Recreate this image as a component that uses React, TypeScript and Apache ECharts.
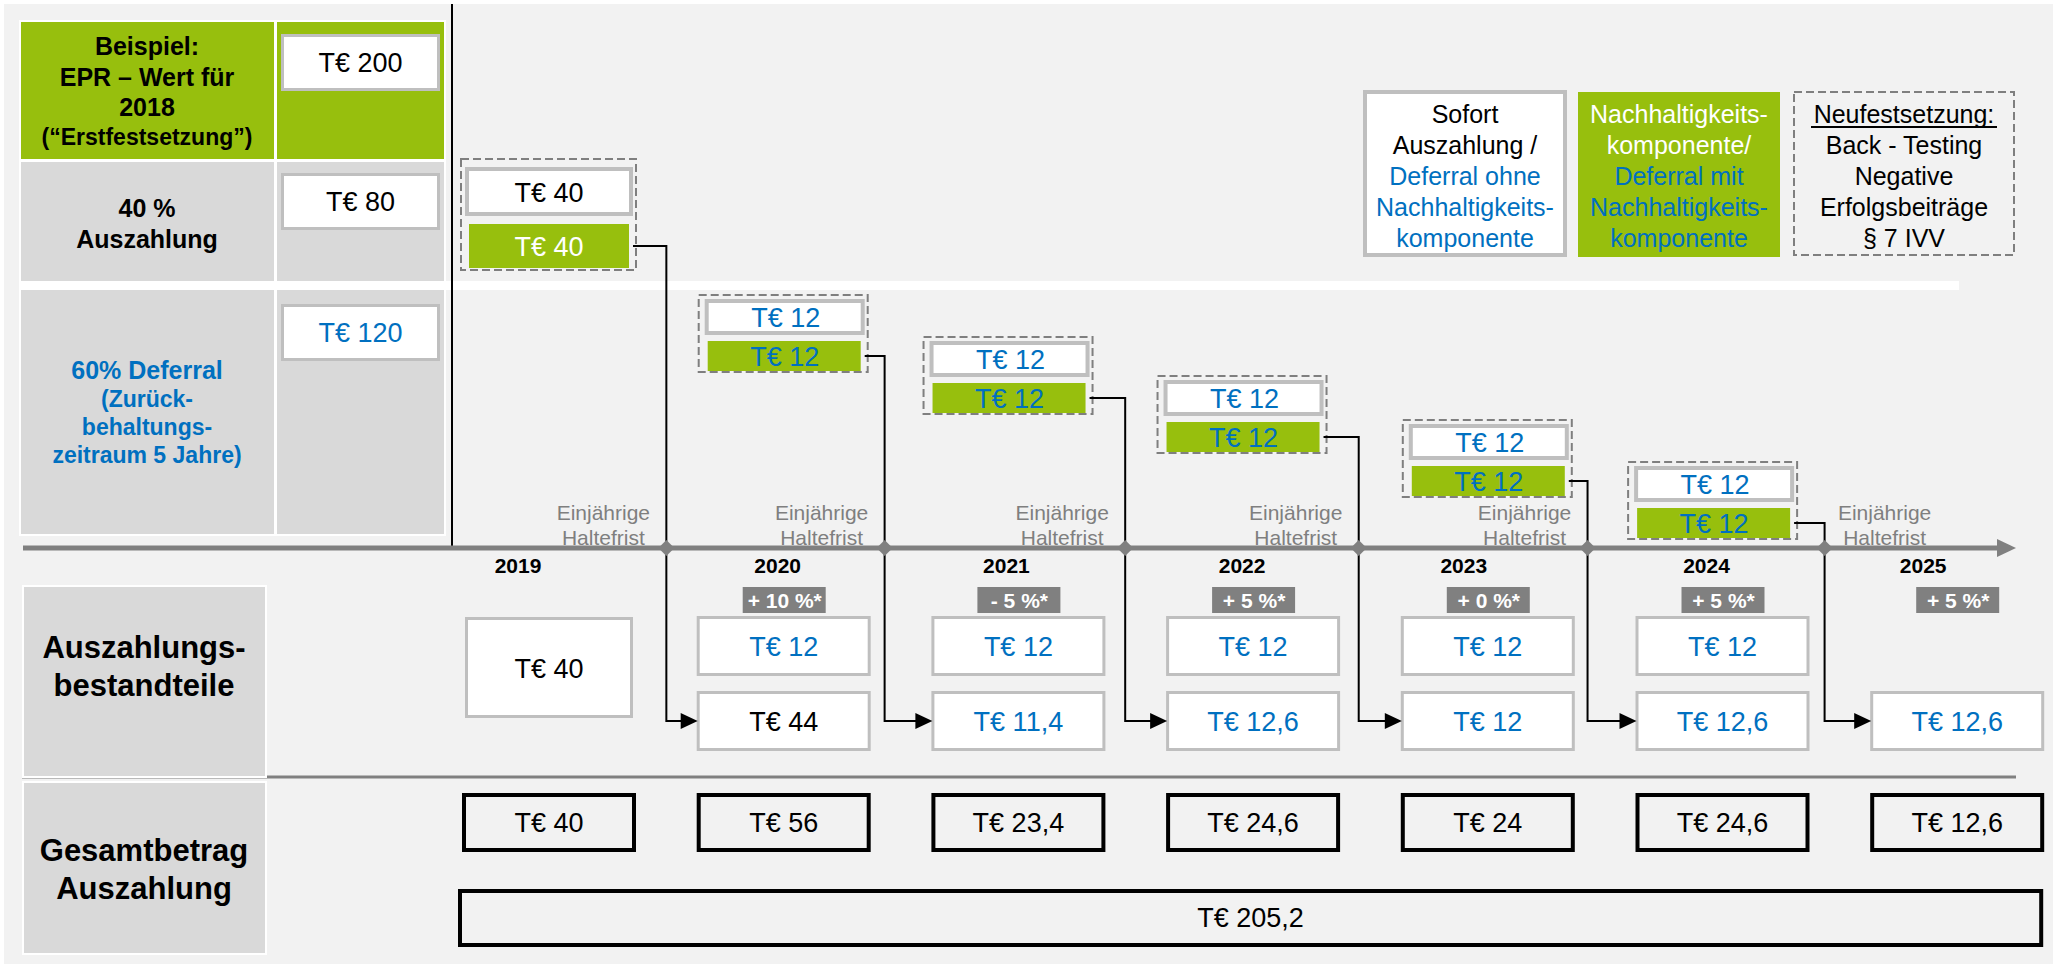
import React, { useEffect, useRef } from "react";
import * as echarts from "echarts";

// ---------------- data ----------------
const years = [2019, 2020, 2021, 2022, 2023, 2024, 2025];
const eprValue2018 = 200; // EPR-Wert für 2018
const payoutPart = 80; // 40 % Auszahlung
const deferralPart = 120; // 60 % Deferral
// tranches per year 2019..2024 (white = ohne, green = mit Nachhaltigkeitskomponente)
const trancheWithout = [40, 12, 12, 12, 12, 12];
const trancheWith = [40, 12, 12, 12, 12, 12];
const adjustments = ["", "+ 10 %*", "- 5 %*", "+ 5 %*", "+ 0 %*", "+ 5 %*", "+ 5 %*"];
const componentDirect = [40, 12, 12, 12, 12, 12, null];
const componentAdjusted = [null, 44, 11.4, 12.6, 12, 12.6, 12.6];
const totals = [40, 56, 23.4, 24.6, 24, 24.6, 12.6];
const grandTotal = 205.2;
const holdingLabel = "Einjährige\nHaltefrist";

// ---------------- styles / layout ----------------
const FONT = '"Liberation Sans", Arial, Helvetica, sans-serif';
const GREEN = "#97bf0d";
const BLUE = "#0070c0";
const GRAY = "#d9d9d9";
const BG = "#f2f2f2";
const BORDER = "#bfbfbf";
const DARK = "#808080";
const BLACK = "#000000";
const WHITE = "#ffffff";
const stackTops = [158, 294, 336, 375, 419, 461];
const stackShift = [0, 0, -0.042, -0.045, 0, -0.04]; // in years
const diamondShift = [0.5, 0.43, 0.455, 0.45, 0.425, 0.435]; // in years
const yearLabelShift = [-31, -6, -12, -11, -24, -16, -34]; // px
const adjustedColor = [BLACK, BLACK, BLUE, BLUE, BLUE, BLUE, BLUE];
const YEAR_PX = 234.7;
const X_MIN = 2019 - 549 / YEAR_PX;
const X_MAX = X_MIN + 2058 / YEAR_PX;

const te = (v: number) => "T€ " + String(v).replace(".", ",");
const font = (size: number, bold = false) => `${bold ? "bold " : ""}${size}px ${FONT}`;

function txt(text: string, x: number, y: number, size: number, color: string, bold = false, extra: any = {}) {
  return {
    type: "text",
    silent: true,
    style: {
      text,
      x,
      y,
      font: font(size, bold),
      fill: color,
      align: "center",
      verticalAlign: "middle",
      textAlign: "center",
      textVerticalAlign: "middle",
      ...extra,
    },
  };
}
function rect(x: number, y: number, w: number, h: number, style: any) {
  return { type: "rect", silent: true, shape: { x, y, width: w, height: h }, style };
}
function line(x1: number, y1: number, x2: number, y2: number, stroke: string, lineWidth: number) {
  return { type: "line", silent: true, shape: { x1, y1, x2, y2 }, style: { stroke, lineWidth } };
}
function lines(arr: [string, string][], cx: number, y0: number, step: number, size: number, bold = false) {
  return arr.map(([t, c], k) => txt(t, cx, y0 + k * step, size, c, bold));
}
const dashed = { fill: "none", stroke: "#7f7f7f", lineWidth: 2, lineDash: [8, 4] };

function valueBox(y: number, text: string, color: string) {
  return [
    rect(282.5, y + 1.5, 156, 54, { fill: WHITE, stroke: BORDER, lineWidth: 3 }),
    txt(text, 360.5, y + 29, 27, color),
  ];
}

const staticGraphics: any[] = [
  rect(4, 4, 2049, 960, { fill: BG }),
  // left table
  rect(19, 20, 427, 516, { fill: WHITE }),
  rect(21, 22, 253, 137, { fill: GREEN }),
  rect(277, 22, 167, 137, { fill: GREEN }),
  rect(21, 162, 253, 119, { fill: GRAY }),
  rect(277, 162, 167, 119, { fill: GRAY }),
  rect(21, 290, 253, 244, { fill: GRAY }),
  rect(277, 290, 167, 244, { fill: GRAY }),
  rect(19, 281, 1940, 9, { fill: WHITE }),
  ...valueBox(34, te(eprValue2018), BLACK),
  ...valueBox(173, te(payoutPart), BLACK),
  ...valueBox(304, te(deferralPart), BLUE),
  txt("Beispiel:", 147, 46, 25, BLACK, true),
  txt("EPR – Wert für", 147, 77, 25, BLACK, true),
  txt("2018", 147, 107, 25, BLACK, true),
  txt("(“Erstfestsetzung”)", 147, 137, 23, BLACK, true),
  txt("40 %", 147, 208, 25, BLACK, true),
  txt("Auszahlung", 147, 239, 25, BLACK, true),
  txt("60% Deferral", 147, 370, 25, BLUE, true),
  txt("(Zurück-", 147, 399, 23, BLUE, true),
  txt("behaltungs-", 147, 427, 23, BLUE, true),
  txt("zeitraum 5 Jahre)", 147, 455, 23, BLUE, true),
  // vertical line and time axis
  line(452, 4, 452, 548, BLACK, 2),
  line(23, 548, 2000, 548, DARK, 5),
  { type: "polygon", silent: true, shape: { points: [[1997, 539], [2016, 548], [1997, 557]] }, style: { fill: DARK } },
  line(22, 777, 2016, 777, DARK, 3),
  // lower row labels
  rect(22, 585, 245, 193, { fill: WHITE }),
  rect(24, 587, 241, 189, { fill: GRAY }),
  rect(22, 781, 245, 174, { fill: WHITE }),
  rect(24, 783, 241, 170, { fill: GRAY }),
  txt("Auszahlungs-", 144, 647, 31, BLACK, true),
  txt("bestandteile", 144, 685, 31, BLACK, true),
  txt("Gesamtbetrag", 144, 850, 31, BLACK, true),
  txt("Auszahlung", 144, 888, 31, BLACK, true),
  // legend
  rect(1365, 92, 200, 163, { fill: WHITE, stroke: BORDER, lineWidth: 4 }),
  ...lines(
    [["Sofort", BLACK], ["Auszahlung /", BLACK], ["Deferral ohne", BLUE], ["Nachhaltigkeits-", BLUE], ["komponente", BLUE]],
    1465, 114, 31, 25
  ),
  rect(1578, 92, 202, 165, { fill: GREEN }),
  ...lines(
    [["Nachhaltigkeits-", WHITE], ["komponente/", WHITE], ["Deferral mit", BLUE], ["Nachhaltigkeits-", BLUE], ["komponente", BLUE]],
    1679, 114, 31, 25
  ),
  rect(1794, 92, 220, 163, dashed),
  ...lines(
    [["Neufestsetzung:", BLACK], ["Back - Testing", BLACK], ["Negative", BLACK], ["Erfolgsbeiträge", BLACK], ["§ 7 IVV", BLACK]],
    1904, 114, 31, 25
  ),
  line(1811, 127, 1997, 127, BLACK, 2),
];

// ---------------- series renderers ----------------
const xOf = (api: any, v: number) => api.coord([v, 0])[0];
const yOf = (api: any, v: number) => api.coord([X_MIN, v])[1];

function renderStack(_p: any, api: any) {
  const i = api.value(2) as number;
  const cx = xOf(api, (api.value(0) as number) + stackShift[i]);
  const top = yOf(api, stackTops[i]);
  const children: any[] = [];
  if (i === 0) {
    children.push(rect(cx - 88, top + 1, 175, 111, dashed));
    children.push(rect(cx - 82, top + 11, 164, 45, { fill: WHITE, stroke: BORDER, lineWidth: 4 }));
    children.push(rect(cx - 80, top + 66, 160, 44, { fill: GREEN }));
    children.push(txt(te(trancheWithout[i]), cx, top + 35, 27, BLACK));
    children.push(txt(te(trancheWith[i]), cx, top + 89, 27, WHITE));
  } else {
    children.push(rect(cx - 85, top + 1, 169, 77, dashed));
    children.push(rect(cx - 77, top + 7, 156, 32, { fill: WHITE, stroke: BORDER, lineWidth: 4 }));
    children.push(rect(cx - 76, top + 47, 153, 30, { fill: GREEN }));
    children.push(txt(te(trancheWithout[i]), cx + 2, top + 24, 27, BLUE));
    children.push(txt(te(trancheWith[i]), cx + 1, top + 63, 27, BLUE));
  }
  return { type: "group", children };
}

function renderConnector(_p: any, api: any) {
  const i = api.value(2) as number;
  const year = api.value(0) as number;
  const cx = xOf(api, year + stackShift[i]);
  const dx = xOf(api, year + diamondShift[i]);
  const nx = xOf(api, year + 1) - 86;
  const top = yOf(api, stackTops[i]);
  const gy = i === 0 ? top + 88 : top + 62;
  const gx = i === 0 ? cx + 84 : cx + 81;
  const ay = yOf(api, 721);
  const axisY = yOf(api, 548);
  const labelX = i < trancheWith.length - 1 ? dx - 63 : dx + 60;
  return {
    type: "group",
    children: [
      {
        type: "polyline",
        silent: true,
        shape: { points: [[gx, gy], [dx, gy], [dx, ay], [nx - 15, ay]] },
        style: { stroke: BLACK, lineWidth: 2, fill: "none" },
      },
      { type: "polygon", silent: true, shape: { points: [[nx - 17, ay - 8], [nx, ay], [nx - 17, ay + 8]] }, style: { fill: BLACK } },
      {
        type: "polygon",
        silent: true,
        shape: { points: [[dx, axisY - 8], [dx + 8, axisY], [dx, axisY + 8], [dx - 8, axisY]] },
        style: { fill: DARK },
      },
      txt(holdingLabel, labelX, yOf(api, 525), 21, "#7f7f7f", false, { lineHeight: 25 }),
    ],
  };
}

function renderYear(_p: any, api: any) {
  const i = api.value(2) as number;
  const cx = xOf(api, api.value(0));
  const children: any[] = [txt(String(years[i]), cx + yearLabelShift[i], yOf(api, 565), 21, BLACK, true)];
  if (adjustments[i]) {
    children.push(rect(cx - 41, yOf(api, 587), 83, 26, { fill: DARK }));
    children.push(txt(adjustments[i], cx + 1, yOf(api, 600), 21, WHITE, true));
  }
  const direct = componentDirect[i];
  const adjusted = componentAdjusted[i];
  if (i === 0 && direct != null) {
    children.push(rect(cx - 82.5, yOf(api, 618.5), 165, 98, { fill: WHITE, stroke: BORDER, lineWidth: 3 }));
    children.push(txt(te(direct), cx, yOf(api, 669), 27, BLACK));
  } else {
    if (direct != null) {
      children.push(rect(cx - 85.5, yOf(api, 617.5), 171, 57, { fill: WHITE, stroke: BORDER, lineWidth: 3 }));
      children.push(txt(te(direct), cx, yOf(api, 647), 27, BLUE));
    }
    if (adjusted != null) {
      children.push(rect(cx - 85.5, yOf(api, 692.5), 171, 57, { fill: WHITE, stroke: BORDER, lineWidth: 3 }));
      children.push(txt(te(adjusted), cx, yOf(api, 722), 27, adjustedColor[i]));
    }
  }
  children.push(rect(cx - 85, yOf(api, 795), 170, 55, { fill: "none", stroke: BLACK, lineWidth: 4 }));
  children.push(txt(te(totals[i]), cx, yOf(api, 823), 27, BLACK));
  return { type: "group", children };
}

function renderGrandTotal(_p: any, api: any) {
  const x1 = xOf(api, api.value(0)) - 89;
  const x2 = xOf(api, api.value(1)) + 84;
  return {
    type: "group",
    children: [
      rect(x1, yOf(api, 891), x2 - x1, 54, { fill: "none", stroke: BLACK, lineWidth: 4 }),
      txt(te(grandTotal), (x1 + x2) / 2, yOf(api, 918), 27, BLACK),
    ],
  };
}

const option: any = {
  animation: false,
  grid: { left: 0, right: 0, top: 0, bottom: 0, containLabel: false },
  xAxis: { type: "value", min: X_MIN, max: X_MAX, show: false },
  yAxis: { type: "value", min: 0, max: 968, inverse: true, show: false },
  graphic: { elements: staticGraphics },
  series: [
    {
      type: "custom",
      name: "Tranchen",
      silent: true,
      clip: false,
      renderItem: renderStack,
      data: trancheWith.map((_, i) => [years[i], 0, i]),
      z: 3,
    },
    {
      type: "custom",
      name: "Haltefrist",
      silent: true,
      clip: false,
      renderItem: renderConnector,
      data: trancheWith.map((_, i) => [years[i], 0, i]),
      z: 4,
    },
    {
      type: "custom",
      name: "Auszahlung",
      silent: true,
      clip: false,
      renderItem: renderYear,
      data: years.map((y, i) => [y, 0, i]),
      z: 3,
    },
    {
      type: "custom",
      name: "Gesamt",
      silent: true,
      clip: false,
      renderItem: renderGrandTotal,
      data: [[years[0], years[years.length - 1]]],
      z: 3,
    },
  ],
};

export default function App() {
  const ref = useRef<HTMLDivElement>(null);
  useEffect(() => {
    document.body.style.margin = "0";
    const chart = echarts.init(ref.current as HTMLDivElement, null, { renderer: "svg" });
    chart.setOption(option);
    return () => chart.dispose();
  }, []);
  return <div ref={ref} style={{ width: 2058, height: 968 }} />;
}
